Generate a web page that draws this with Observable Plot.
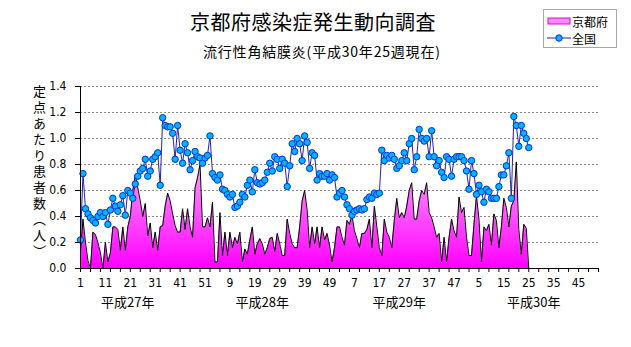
<!DOCTYPE html>
<html><head><meta charset="utf-8">
<script src="https://cdn.jsdelivr.net/npm/d3@7"></script>
<script src="https://cdn.jsdelivr.net/npm/@observablehq/plot@0.6"></script>
<style>
body{margin:0;background:#fff;}
#wrap{position:relative;width:631px;height:347px;overflow:hidden;font-family:"Noto Sans CJK JP",sans-serif;color:#000;}
#title{position:absolute;left:190px;top:10px;font-size:20px;line-height:24px;letter-spacing:0.5px;white-space:nowrap;}
#subtitle{position:absolute;left:203px;top:42px;font-size:14px;line-height:18px;letter-spacing:0.8px;white-space:nowrap;}
#ylabel{position:absolute;left:31px;top:85px;writing-mode:vertical-rl;font-size:13px;letter-spacing:3px;line-height:16px;white-space:nowrap;}
#legend{position:absolute;left:543px;top:9px;width:74px;height:39px;border:1px solid #a8a8a8;font-size:12px;box-sizing:border-box;}
#legend .row{position:absolute;left:3px;height:16px;display:flex;align-items:center;white-space:nowrap;}
#plot{position:absolute;left:0;top:0;}
</style></head>
<body><div id="wrap">
<div id="plot"></div>
<div id="title">京都府感染症発生動向調査</div>
<div id="subtitle">流行性角結膜炎(平成30年25週現在)</div>
<div id="ylabel">定点あたり患者数（人）</div>
<div id="legend">
  <div class="row" style="top:3px"><svg width="25" height="10"><rect x="1" y="2" width="22" height="6" fill="#ff8cff" stroke="#e000e0" stroke-width="1"/></svg><span>京都府</span></div>
  <div class="row" style="top:20px"><svg width="25" height="10"><line x1="0" y1="5" x2="24" y2="5" stroke="#2020a0"/><circle cx="12" cy="5" r="3.2" fill="#00b4ff" stroke="#0030e0"/></svg><span>全国</span></div>
</div>
</div>
<script>
// 京都府 定点あたり患者数 (平成27年第1週 〜 平成30年第25週)
const kyoto = [
0.13,0.38,0.20,0.06,0.00,0.28,0.26,0.20,0.12,0.00,
0.20,0.05,0.12,0.32,0.32,0.30,0.14,0.32,0.14,0.32,
0.40,0.60,0.72,0.62,0.52,0.40,0.50,0.25,0.35,0.16,
0.28,0.14,0.32,0.33,0.48,0.58,0.52,0.42,0.33,0.28,
0.28,0.46,0.30,0.46,0.32,0.24,0.62,0.70,0.80,0.32,
0.32,0.39,0.32,0.51,0.05,0.05,0.43,0.10,0.28,0.10,
0.28,0.16,0.24,0.19,0.28,0.05,0.15,0.11,0.22,0.32,
0.11,0.19,0.23,0.19,0.11,0.16,0.23,0.24,0.13,0.27,
0.19,0.10,0.10,0.38,0.27,0.19,0.16,0.16,0.32,0.52,
0.60,0.45,0.16,0.32,0.19,0.32,0.16,0.32,0.22,0.27,
0.18,0.05,0.16,0.32,0.32,0.24,0.18,0.37,0.34,0.41,
0.29,0.23,0.16,0.27,0.27,0.30,0.38,0.16,0.48,0.32,
0.16,0.10,0.38,0.28,0.24,0.16,0.37,0.54,0.39,0.43,
0.39,0.48,0.60,0.66,0.38,0.38,0.52,0.60,0.57,0.66,
0.43,0.39,0.32,0.24,0.27,0.05,0.24,0.05,0.24,0.38,
0.29,0.24,0.55,0.43,0.47,0.24,0.10,0.10,0.34,0.56,
0.38,0.05,0.32,0.29,0.34,0.18,0.42,0.37,0.16,0.32,
0.54,0.47,0.32,0.48,0.52,0.82,0.30,0.11,0.34,0.31,
0.00];
// 全国 定点あたり患者数
const zenkoku = [
0.22,0.73,0.46,0.42,0.39,0.37,0.35,0.40,0.43,0.40,
0.43,0.34,0.45,0.54,0.48,0.44,0.49,0.56,0.41,0.60,
0.58,0.54,0.65,0.71,0.75,0.77,0.84,0.71,0.75,0.84,
0.86,0.89,0.64,1.16,1.10,1.09,1.09,1.04,0.84,1.10,
0.91,0.81,0.96,0.89,0.76,0.83,0.90,0.86,0.85,0.81,
0.85,0.87,1.02,0.73,0.70,0.68,0.72,0.61,0.60,0.57,
0.55,0.57,0.47,0.48,0.51,0.57,0.55,0.64,0.68,0.59,
0.76,0.66,0.65,0.66,0.68,0.74,0.81,0.75,0.86,0.84,
0.77,0.84,0.81,0.63,0.79,0.96,0.90,1.00,0.96,0.83,
1.02,0.97,0.77,0.89,0.87,0.68,0.73,0.71,0.71,0.73,
0.68,0.72,0.70,0.55,0.58,0.60,0.55,0.49,0.46,0.41,
0.44,0.45,0.46,0.45,0.46,0.53,0.55,0.54,0.58,0.57,
0.58,0.91,0.83,0.87,0.85,0.87,0.84,0.77,0.79,0.83,
0.89,0.83,0.96,1.00,0.76,0.86,1.07,1.00,0.98,1.00,
0.86,1.06,0.86,0.79,0.83,0.74,0.70,0.86,0.84,0.71,
0.84,0.86,0.86,0.86,0.83,0.75,0.61,0.83,0.73,0.57,
0.64,0.59,0.51,0.61,0.59,0.54,0.54,0.54,0.63,0.72,
0.72,0.79,0.89,0.54,1.17,1.10,0.94,1.10,1.04,1.00,
0.93];
const weeksPerYear = 52;
const yearsShown = 4;
const tickLabels = ["1","11","21","31","41","51","9","19","29","39","49","7","17","27","37","47","5","15","25","35","45"];
const yearLabels = ["平成27年","平成28年","平成29年","平成30年"];
const yearLabelWeekIndex = [19, 73, 128, 182];
const yTicks = [0,0.2,0.4,0.6,0.8,1.0,1.2,1.4];

const rows = zenkoku.map((v, i) => ({i, zenkoku: v, kyoto: kyoto[i]}));
const nCat = weeksPerYear * yearsShown;
const labelTicks = tickLabels.map((_, k) => k * 10);
const labelMap = new Map(labelTicks.map((t, k) => [t, tickLabels[k]]));
const yearMap = new Map(yearLabelWeekIndex.map((t, k) => [t, yearLabels[k]]));
const minorTicks = d3.range(0, nCat + 1, 4);

const gradient = (index, scales) => {
  const ns = "http://www.w3.org/2000/svg";
  const defs = document.createElementNS(ns, "defs");
  const lg = document.createElementNS(ns, "linearGradient");
  lg.setAttribute("id", "kyotoGrad");
  lg.setAttribute("gradientUnits", "userSpaceOnUse");
  lg.setAttribute("x1", "0"); lg.setAttribute("x2", "0");
  lg.setAttribute("y1", String(scales.y(0)));
  lg.setAttribute("y2", String(scales.y(0.85)));
  [["0%", "#ff00ff"], ["100%", "#ffa8ff"]].forEach(([o, c]) => {
    const s = document.createElementNS(ns, "stop");
    s.setAttribute("offset", o); s.setAttribute("stop-color", c);
    lg.appendChild(s);
  });
  defs.appendChild(lg);
  return defs;
};

const numFont = '"Liberation Sans Narrow","DejaVu Sans Condensed",sans-serif';

const chart = Plot.plot({
  width: 631,
  height: 347,
  marginLeft: 80,
  marginRight: 33,
  marginTop: 86,
  marginBottom: 79,
  style: {fontFamily: numFont, fontSize: "12px", background: "transparent", overflow: "visible"},
  x: {type: "linear", domain: [0, nCat]},
  y: {domain: [0, 1.4]},
  marks: [
    gradient,
    Plot.gridY(yTicks.slice(1), {stroke: "#8c8c8c", strokeOpacity: 1, strokeDasharray: "2,2"}),
    Plot.areaY(rows, {x: "i", y: "kyoto", fill: "url(#kyotoGrad)"}),
    Plot.lineY(rows, {x: "i", y: "kyoto", stroke: "#000", strokeWidth: 1}),
    Plot.lineY(rows, {x: "i", y: "zenkoku", stroke: "#2424a8", strokeWidth: 1}),
    Plot.dot(rows, {x: "i", y: "zenkoku", r: 3.2, fill: "#00b4ff", stroke: "#0030e0", strokeWidth: 1}),
    Plot.ruleX([0], {stroke: "#000"}),
    Plot.ruleY([0], {stroke: "#000"}),
    Plot.axisY({ticks: yTicks, tickFormat: d3.format(".1f"), tickSize: 5, tickPadding: 9, label: null, fontSize: 12}),
    Plot.axisX({ticks: minorTicks, tickFormat: () => "", tickSize: 4, label: null}),
    Plot.axisX({ticks: labelTicks, tickFormat: d => labelMap.get(d), tickSize: 0, tickPadding: 10, label: null, fontSize: 12}),
    Plot.axisX({ticks: yearLabelWeekIndex, tickFormat: d => yearMap.get(d), tickSize: 0, tickPadding: 29, label: null, fontSize: 13, fontFamily: '"Noto Sans CJK JP",sans-serif'})
  ]
});
document.getElementById("plot").appendChild(chart);
</script>
</body></html>
